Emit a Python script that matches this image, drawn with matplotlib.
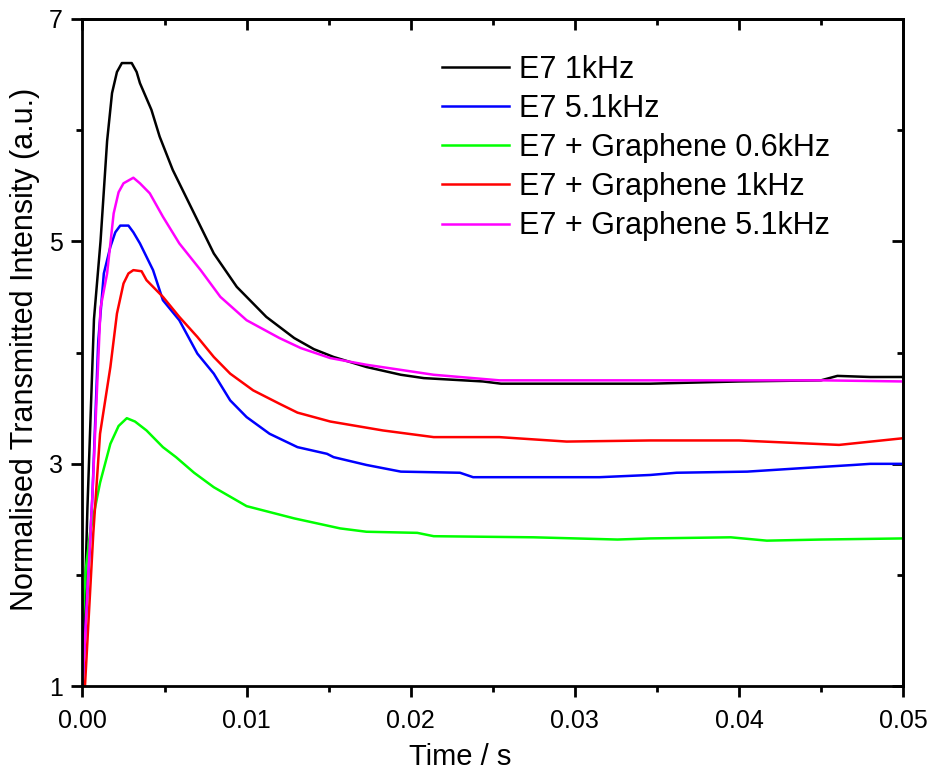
import matplotlib.pyplot as plt
from matplotlib.ticker import MultipleLocator, FixedLocator

plt.rcParams['font.family'] = ['Liberation Sans', 'DejaVu Sans']

# values
labels = ["E7 1kHz", "E7 5.1kHz", "E7 + Graphene 0.6kHz",
          "E7 + Graphene 1kHz", "E7 + Graphene 5.1kHz"]
colors = ["#000000", "#0000ff", "#00ff00", "#ff0000", "#ff00ff"]

black_t = [0, 0.0003, 0.0007, 0.0011, 0.0015, 0.0018, 0.0021, 0.0024, 0.0030,
           0.0033, 0.0035, 0.0042, 0.0047, 0.0055, 0.0068, 0.0080, 0.0094,
           0.0112, 0.0129, 0.0141, 0.0153, 0.0173, 0.0194, 0.0208, 0.0244,
           0.0255, 0.0300, 0.0346, 0.0400, 0.0450, 0.0460, 0.0480, 0.0500]
black_v = [1.0, 2.6, 4.3, 5.0, 5.9, 6.33, 6.52, 6.6, 6.6, 6.52, 6.42, 6.18,
           5.94, 5.64, 5.25, 4.89, 4.59, 4.32, 4.13, 4.03, 3.96, 3.87, 3.80,
           3.77, 3.74, 3.72, 3.72, 3.72, 3.74, 3.75, 3.79, 3.78, 3.78]

blue_t = [0, 0.0006, 0.00096, 0.0013, 0.0017, 0.0020, 0.0023, 0.0028, 0.0031,
          0.0035, 0.0043, 0.0049, 0.0059, 0.0070, 0.0080, 0.0090, 0.0100,
          0.0114, 0.0131, 0.0149, 0.0153, 0.0173, 0.0194, 0.0230, 0.0238,
          0.0315, 0.0346, 0.0362, 0.0405, 0.0437, 0.0470, 0.0480, 0.0500]
blue_v = [1.0, 2.7, 4.1, 4.71, 4.95, 5.08, 5.14, 5.14, 5.08, 4.98, 4.74,
          4.47, 4.29, 3.99, 3.81, 3.57, 3.42, 3.27, 3.15, 3.09, 3.06, 2.99,
          2.93, 2.92, 2.88, 2.88, 2.90, 2.92, 2.93, 2.96, 2.99, 3.0, 3.0]

green_t = [0, 0.0002, 0.00046, 0.00107, 0.0017, 0.0022, 0.0027, 0.0032,
           0.0039, 0.0049, 0.0057, 0.0068, 0.0080, 0.0100, 0.0129, 0.0157,
           0.0173, 0.0204, 0.0214, 0.0275, 0.0326, 0.0346, 0.0395, 0.0417,
           0.0450, 0.0500]
green_v = [1.55, 2.05, 2.38, 2.83, 3.18, 3.34, 3.41, 3.38, 3.30, 3.15, 3.06,
           2.92, 2.79, 2.62, 2.51, 2.42, 2.39, 2.38, 2.35, 2.34, 2.32, 2.33,
           2.34, 2.31, 2.32, 2.33]

red_t = [0.00015, 0.00066, 0.00107, 0.0017, 0.0021, 0.0025, 0.0028, 0.0031,
         0.0036, 0.0039, 0.0049, 0.0059, 0.0070, 0.0080, 0.0090, 0.0104,
         0.0120, 0.0131, 0.0151, 0.0183, 0.0214, 0.0254, 0.0295, 0.0346,
         0.0400, 0.0461, 0.0500]
red_v = [1.0, 2.38, 3.27, 3.87, 4.35, 4.62, 4.71, 4.74, 4.73, 4.65, 4.50,
         4.32, 4.14, 3.96, 3.81, 3.66, 3.54, 3.46, 3.38, 3.30, 3.24, 3.24,
         3.20, 3.21, 3.21, 3.17, 3.23]

magenta_t = [0, 0.0006, 0.0011, 0.0015, 0.0019, 0.0022, 0.0025, 0.0031,
             0.0035, 0.0041, 0.0049, 0.0059, 0.0072, 0.0084, 0.0100, 0.0120,
             0.0133, 0.0151, 0.0173, 0.0214, 0.0254, 0.0346, 0.0400, 0.0450,
             0.0500]
magenta_v = [1.0, 2.7, 4.4, 4.71, 5.25, 5.44, 5.52, 5.57, 5.52, 5.43, 5.22,
             4.98, 4.74, 4.50, 4.29, 4.13, 4.04, 3.95, 3.89, 3.80, 3.75, 3.75,
             3.75, 3.75, 3.74]

series = [(black_t, black_v), (blue_t, blue_v), (green_t, green_v),
          (red_t, red_v), (magenta_t, magenta_v)]

xticks = [0.0, 0.01, 0.02, 0.03, 0.04, 0.05]
yticks = [1, 3, 5, 7]
yminor = [2, 4, 6]

fig = plt.figure(figsize=(9.31, 7.69), dpi=100)
ax = fig.add_axes([0.0886, 0.1073, 0.8814, 0.8686])

for (t, v), lab, c in zip(series, labels, colors):
    ax.plot(t, v, color=c, lw=1.8, label=lab, solid_joinstyle='round')

ax.set_xlim(0, 0.05)
ax.set_ylim(1, 7)
ax.set_xticks(xticks)
ax.set_xticklabels([f"{x:.2f}" for x in xticks])
ax.xaxis.set_minor_locator(MultipleLocator(0.005))
ax.set_yticks(yticks)
ax.yaxis.set_minor_locator(FixedLocator(yminor))

for s in ax.spines.values():
    s.set_linewidth(2)

ax.tick_params(which='both', direction='out', width=2, labelsize=18,
               top=False, right=False)
ax.tick_params(which='major', length=8)
ax.tick_params(which='minor', length=4.5)
ax.tick_params(axis='x', which='major', pad=8)
ax.tick_params(axis='y', which='major', pad=6)

# mirrored ticks pointing inwards on top and right
ax2 = ax.secondary_xaxis('top')
ax2.set_xticks(xticks)
ax2.xaxis.set_minor_locator(MultipleLocator(0.005))
ax2.tick_params(which='both', direction='in', width=2, labeltop=False)
ax2.tick_params(which='major', length=8)
ax2.tick_params(which='minor', length=4.5)
ax2.spines['top'].set_linewidth(2)
ay2 = ax.secondary_yaxis('right')
ay2.set_yticks(yticks)
ay2.yaxis.set_minor_locator(FixedLocator(yminor))
ay2.tick_params(which='both', direction='in', width=2, labelright=False)
ay2.tick_params(which='major', length=8)
ay2.tick_params(which='minor', length=4.5)
ay2.spines['right'].set_linewidth(2)

ax.set_xlabel("Time / s", fontsize=21)
ax.set_ylabel("Normalised Transmitted Intensity (a.u.)", fontsize=22)
ax.xaxis.set_label_coords(0.46, -0.084)
ax.yaxis.set_label_coords(-0.052, 0.505)

ax.legend(loc='upper left', bbox_to_anchor=(0.438, 0.946), frameon=False,
          fontsize=22, handlelength=2.2, handletextpad=0.33,
          labelspacing=0.3, borderaxespad=0, borderpad=0)

fig.savefig("out.png", dpi=100)
